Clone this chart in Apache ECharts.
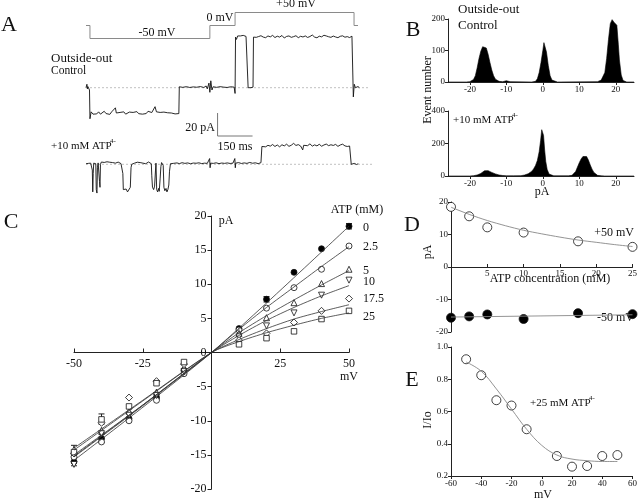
<!DOCTYPE html>
<html><head><meta charset="utf-8">
<script src="https://cdn.jsdelivr.net/npm/echarts@6/dist/echarts.min.js"></script>
<style>html,body{margin:0;padding:0;background:#fff}#c{width:640px;height:502px}</style>
</head><body><div id="c"></div>
<script>
// ---------- Panel A : voltage protocol (ms, mV) ----------
const protoT  = [0, 17, 17, 531, 531, 639, 639, 1149, 1149, 1166];
const protoMV = [0, 0, -50, -50, 0, 0, 50, 50, 0, 0];
// ---------- Panel A : control trace [ms, pA] ----------
const ctrlTrace = [[0,0],[4,3],[6,-1],[8,1],[12,0],[15,-2],[17,-27],[22,-21],[30,-23],[38,-21.5],[46,-22.8],[54,-21],[62,-23],[70,-22],[78,-20.5],[86,-22.5],[94,-21.8],[102,-23.2],[110,-21],[118,-22],[126,-17.5],[130,-22],[138,-23],[146,-21.5],[154,-22.4],[162,-21],[170,-23],[178,-22],[186,-21.2],[194,-22.8],[202,-21.5],[210,-22.3],[218,-20.8],[226,-22.6],[234,-21.4],[242,-23],[250,-21.8],[258,-22.5],[266,-20.5],[274,-22.2],[282,-21.6],[290,-22.8],[296,-16.5],[302,-21],[310,-22],[318,-21.5],[326,-23],[334,-21.2],[342,-22.6],[350,-21.8],[358,-23],[366,-22],[374,-21.5],[382,-22.8],[390,-22],[398,-22.5],[400,0.8],[415,0.3],[430,0.9],[445,0.2],[460,0.7],[475,0.4],[490,1.0],[505,0.2],[515,1.5],[520,-1],[527,4],[531,-4],[535,6],[540,-2],[545,0.8],[560,0.3],[575,0.9],[590,0.5],[605,0.2],[620,0.8],[635,0.5],[639,-5],[641,44],[645,42],[650,45],[656,43.5],[662,45],[668,44],[674,45.5],[680,43.8],[686,44.6],[692,44],[695,0],[700,-1],[707,0],[716,0.5],[718,44],[722,45],[730,43.8],[740,44.5],[750,45.2],[760,44],[770,43.5],[780,45],[790,44.2],[800,45.5],[810,43.6],[820,44.8],[830,44],[840,45.4],[850,43.2],[860,44.6],[870,45],[880,43.8],[890,44.4],[900,45.2],[910,43.5],[920,44.7],[930,44.1],[940,45],[950,43.7],[960,44.5],[970,45.8],[980,44],[990,43.4],[1000,44.8],[1010,44.2],[1020,45.6],[1030,45],[1040,44.3],[1050,43.8],[1060,44.9],[1070,44.1],[1080,43.5],[1090,44.7],[1100,45.1],[1110,43.9],[1120,44.4],[1130,43.6],[1140,44.8],[1144,44],[1146,-8],[1150,3],[1155,0],[1160,-1.5],[1166,1],[1172,0]];
// ---------- Panel A : +10 mM ATP trace [ms, pA] ----------
const atpTrace = [[0,0.5],[5,1.5],[10,0.8],[15,2],[20,1],[25,1.5],[27,-5],[29,-24],[31,-8],[33,1],[38,1.8],[42,0.5],[44,-22],[47,-25],[49,-3],[52,1.2],[56,0.8],[58,-15],[60,-20],[62,0],[66,2],[72,1],[78,1.6],[84,0.6],[90,2.2],[96,1],[102,1.8],[108,0.4],[114,1.5],[120,2.5],[126,1],[132,0.8],[138,1.9],[144,1.2],[150,0.6],[155,1.5],[158,-8],[160,-22],[166,-23],[172,-21.5],[178,-24],[184,-22.5],[190,-20],[193,-3],[196,0],[202,-1],[208,1],[214,0.5],[220,1.8],[226,0.9],[232,1.5],[238,2.2],[244,1],[250,1.6],[256,0.5],[262,1.4],[268,2],[274,1],[280,0.5],[282,-10],[285,-20],[290,-22],[294,-19],[298,-5],[300,1],[303,-22],[307,-24],[311,-21],[314,-23.5],[318,-12],[321,-2],[324,1.5],[328,2],[331,-1],[334,-20],[338,-23],[343,-21],[347,-24],[351,-22],[355,-18],[358,-6],[362,0.5],[368,1.2],[374,0.8],[380,1.5],[390,1.2],[400,0.6],[412,1.4],[424,0.8],[436,1.2],[448,0.5],[460,1.1],[472,0.9],[484,1.3],[496,0.6],[508,1.0],[520,0.8],[528,1.2],[530,5],[532,-3],[534,1],[546,0.8],[558,1.3],[570,0.6],[582,1.1],[594,0.8],[606,1.2],[618,0.7],[630,1.0],[637,1],[638,5],[640,-3],[642,1],[654,1.5],[666,0.7],[678,1.2],[690,0.8],[702,1.6],[714,0.9],[726,1.3],[738,0.6],[750,1.4],[753,1],[754,15.5],[760,17],[770,15.2],[780,16.5],[790,15.8],[800,17.2],[810,15.5],[820,16.8],[830,15.2],[840,17],[850,16],[860,17.5],[870,15.6],[880,16.6],[890,18.2],[900,16.4],[910,17.1],[920,15.9],[925,16],[929,12.5],[933,16.5],[940,17.5],[950,16.2],[960,17.8],[970,15.8],[980,16.9],[990,16],[1000,17.4],[1010,15.7],[1020,16.8],[1030,17.6],[1040,16.2],[1050,17],[1060,16.4],[1070,17.3],[1080,15.6],[1090,16.8],[1100,17.5],[1110,16],[1120,15.5],[1130,15.9],[1136,15],[1137,0],[1140,-0.5],[1150,0.8],[1160,-0.2],[1167,0.5]];
const scaleBar = [[564,44.6],[564,24.6],[714,24.6]]; // 20 pA, 150 ms

// ---------- Panel B : amplitude histograms [pA, events] ----------
const histCtrl = [[-26,0],[-21,0],[-20,1],[-19.5,3],[-19,8],[-18.5,20],[-18,45],[-17.5,75],[-17,98],[-16.5,112],[-16,118],[-15.5,108],[-15,88],[-14.5,62],[-14,38],[-13.5,20],[-13,9],[-12.5,4],[-12,2],[-11,1],[-10.5,3],[-10,4],[-9.5,2],[-9,1],[-3,0],[-2,2],[-1.5,10],[-1,30],[-0.5,62],[0,100],[0.3,125],[0.6,128],[1,95],[1.5,52],[2,20],[2.5,6],[3,1],[4,0],[15,1],[15.5,3],[16,6],[16.5,12],[17,30],[17.5,75],[18,135],[18.5,185],[19,198],[19.5,190],[20,195],[20.3,180],[20.7,120],[21,70],[21.5,22],[22,5],[22.5,1],[23,0],[25,0]];
const histAtp = [[-26,0],[-20,0],[-19,2],[-18,6],[-17,16],[-16.5,26],[-16,32],[-15.5,36],[-15,33],[-14.5,28],[-14,22],[-13,13],[-12,6],[-11,3],[-10,1],[-8,1],[-6,2],[-5,6],[-4,14],[-3,30],[-2.5,45],[-2,65],[-1.5,95],[-1,150],[-0.6,220],[-0.3,285],[-0.1,295],[0.2,250],[0.5,160],[0.8,90],[1.2,40],[1.7,12],[2.2,4],[3,1],[7,1],[8,4],[8.5,12],[9,28],[9.5,55],[10,82],[10.5,105],[11,120],[11.5,128],[12,120],[12.5,98],[13,68],[13.5,42],[14,22],[14.5,10],[15,4],[16,1],[17,0],[25,0]];

// ---------- Panel C : I-V relations ----------
const ivV = [-50, -40, -30, -20, -10, 10, 20, 30, 40, 50];
const atpLevels = ['0', '2.5', '5', '10', '17.5', '25'];
const iv0   = [-16.0, -12.6, -9.7, -6.6, -2.6, 3.5, 7.8, 11.75, 15.2, 18.5];
const iv2_5 = [-15.3, -13.1, -10.0, -7.0, -3.1, 3.3, 6.5, 9.5, 12.2, 15.6];
const iv5   = [-14.2, -11.4, -8.6, -5.8, -2.3, 2.8, 5.1, 7.3, 10.1, 12.2];
const iv10  = [-16.4, -11.9, -9.2, -6.3, -2.8, 2.3, 3.9, 5.8, 8.4, 10.6];
const iv17_5= [-14.8, -10.3, -6.6, -4.2, -1.7, 1.8, 2.8, 4.4, 6.1, 7.9];
const iv25  = [-14.6, -9.8, -7.9, -4.5, -1.4, 1.2, 2.1, 3.1, 4.9, 6.1];
const fit0   = [[-50,-15.8],[0,0],[50,18.5]];
const fit2_5 = [[-50,-15.3],[-25,-7.8],[0,0],[10,3.4],[20,6.6],[30,9.6],[40,12.6],[50,15.5]];
const fit5   = [[-50,-15],[-25,-7.7],[0,0],[10,2.9],[20,5.4],[30,7.7],[40,9.9],[50,12]];
const fit10  = [[-50,-15.2],[-25,-7.7],[0,0],[10,2.5],[20,4.7],[30,6.6],[40,8.3],[50,9.8]];
const fit17_5= [[-50,-14.3],[-25,-7.1],[0,0],[10,1.9],[20,3.5],[30,4.9],[40,6.0],[50,7.0]];
const fit25  = [[-50,-14],[-25,-7],[0,0],[10,1.6],[20,2.9],[30,4.0],[40,5.0],[50,5.8]];
const errBars = [[50,18.1,18.9],[20,7.4,8.2],[-50,-16.6,-15.4],[-40,-10.5,-9.0],[-40,-13.2,-12.0],[-50,-14.6,-13.6]];

// ---------- Panel D : current vs ATP ----------
const dConc = [0, 2.5, 5, 10, 17.5, 25];
const dPos  = [18.5, 15.6, 12.2, 10.6, 7.9, 6.2];
const dNeg  = [-15.6, -15.2, -14.6, -16.0, -14.2, -14.5];
const dPosFit = [[0,18.4],[2.5,16.2],[5,14.3],[7.5,12.7],[10,11.3],[12.5,10.2],[15,9.2],[17.5,8.3],[20,7.6],[22.5,6.9],[25,6.3]];
const dNegFit = [[0,-15.4],[25,-14.7]];

// ---------- Panel E : relative block ----------
const eV   = [-50, -40, -30, -20, -10, 10, 20, 30, 40, 50];
const eRel = [0.924, 0.825, 0.67, 0.637, 0.49, 0.324, 0.258, 0.262, 0.324, 0.33];
const eFit = [[-50,0.907],[-40,0.85],[-30,0.74],[-20,0.615],[-10,0.49],[0,0.39],[10,0.33],[20,0.305],[30,0.295],[40,0.29],[50,0.29]];

const FF = 'Liberation Serif';
const AX = '#222';
const zip = (a, b) => a.map((v, i) => [v, b[i]]);

const chart = echarts.init(document.getElementById('c'), null, {renderer: 'canvas'});

const tOff = {show: false};
function hidAxis(gi, min, max) {
  return {gridIndex: gi, type: 'value', min, max, show: false, splitLine: tOff};
}
function visAxis(gi, o) {
  return Object.assign({
    gridIndex: gi, type: 'value', splitLine: tOff,
    axisLine: {show: true, onZero: false, lineStyle: {color: AX, width: 1}},
    axisTick: {show: true, length: 3, lineStyle: {color: AX}},
    axisLabel: {fontFamily: FF, fontSize: 9, color: '#111', margin: 3}
  }, o);
}

const grids = [
  {left: 86, top: 9.9, width: 291.6, height: 31.2},   // 0 protocol
  {left: 86, top: 18.7, width: 291.6, height: 115},   // 1 control trace
  {left: 86, top: 106.8, width: 291.6, height: 92},   // 2 ATP trace
  {left: 448, top: 19, width: 186, height: 63},       // 3 hist ctrl
  {left: 448, top: 111, width: 186, height: 65},      // 4 hist ATP
  {left: 74, top: 216, width: 275, height: 273},      // 5 C
  {left: 451, top: 202, width: 183, height: 130},     // 6 D
  {left: 451, top: 347, width: 183, height: 129}      // 7 E
];
// C axes cross at zero: offset from the grid edges to the zero lines
const cOffX = -136.5, cOffY = -137.5, dOffX = -65;

const xAxes = [
  hidAxis(0, 0, 1250), hidAxis(1, 0, 1250), hidAxis(2, 0, 1250),
  visAxis(3, {min: -26, max: 25, axisLabel: {fontFamily: FF, fontSize: 9, color: '#111', margin: 3, customValues: [-20,-10,0,10,20]}, axisTick: {show: true, length: 3, customValues: [-20,-10,0,10,20], lineStyle: {color: AX}}}),
  visAxis(4, {min: -26, max: 25, axisLabel: {fontFamily: FF, fontSize: 9, color: '#111', margin: 3, customValues: [-20,-10,0,10,20]}, axisTick: {show: true, length: 3, customValues: [-20,-10,0,10,20], lineStyle: {color: AX}}}),
  visAxis(5, {min: -50, max: 50, position: 'bottom', offset: cOffX,
    axisTick: {show: true, inside: true, length: 4, customValues: [-50,-25,25,50], lineStyle: {color: AX}},
    axisLabel: {fontFamily: FF, fontSize: 12, color: '#111', margin: 5, customValues: [-50,-25,25,50]}}),
  visAxis(6, {min: 0, max: 25, position: 'bottom', offset: dOffX,
    axisTick: {show: true, inside: true, length: 3, customValues: [5,10,15,20,25], lineStyle: {color: AX}},
    axisLabel: {fontFamily: FF, fontSize: 9, color: '#111', margin: 2, customValues: [5,10,15,20,25]}}),
  visAxis(7, {min: -60, max: 60, interval: 20})
];
const yAxes = [
  hidAxis(0, -60, 60), hidAxis(1, -40, 60), hidAxis(2, -30, 50),
  visAxis(3, {min: 0, max: 200, interval: 100}),
  visAxis(4, {min: 0, max: 400, interval: 200}),
  visAxis(5, {min: -20, max: 20, interval: 5, position: 'left', offset: cOffY,
    axisTick: {show: true, length: 4, lineStyle: {color: AX}},
    axisLabel: {fontFamily: FF, fontSize: 12, color: '#111', margin: 5}}),
  visAxis(6, {min: -20, max: 20, interval: 10}),
  visAxis(7, {min: 0.2, max: 1.0, interval: 0.2, axisLabel: {fontFamily: FF, fontSize: 9, color: '#111', margin: 3, formatter: v => v.toFixed(1)}})
];

const series = [];
function line(gi, data, color, width, extra) {
  series.push(Object.assign({type: 'line', xAxisIndex: gi, yAxisIndex: gi, data, symbol: 'none',
    lineStyle: {color, width}, silent: true, animation: false}, extra || {}));
}
function scat(gi, data, symbol, filled, size, rot) {
  series.push({type: 'scatter', xAxisIndex: gi, yAxisIndex: gi, data, symbol, symbolSize: size,
    symbolRotate: rot || 0, animation: false,
    itemStyle: {color: filled ? '#000' : '#fff', borderColor: '#111', borderWidth: 0.8, opacity: 1}});
}

// A
line(0, zip(protoT, protoMV), '#8a8a8a', 1);
line(1, [[0,0],[1217,0]], '#b0b0b0', 0.8, {lineStyle: {color: '#b0b0b0', width: 0.8, type: [2,2]}});
line(1, ctrlTrace, '#111', 0.9);
line(2, [[0,0],[1226,0]], '#b0b0b0', 0.8, {lineStyle: {color: '#b0b0b0', width: 0.8, type: [2,2]}});
line(2, atpTrace, '#111', 0.9);
line(2, scaleBar, '#777', 1);
// B
line(3, histCtrl, '#000', 0.6, {areaStyle: {color: '#000', opacity: 1}});
line(4, histAtp, '#000', 0.6, {areaStyle: {color: '#000', opacity: 1}});
// C
const ivSets = [iv0, iv2_5, iv5, iv10, iv17_5, iv25];
const fitSets = [fit0, fit2_5, fit5, fit10, fit17_5, fit25];
const syms = [['circle',true,6,0],['circle',false,6,0],['triangle',false,6,0],['triangle',false,6,180],['diamond',false,7,0],['rect',false,5.5,0]];
fitSets.forEach(f => line(5, f, '#333', 0.8, {smooth: 0.25}));
series.push({type: 'custom', xAxisIndex: 5, yAxisIndex: 5, data: errBars, animation: false,
  renderItem: (p, api) => {
    const a = api.coord([api.value(0), api.value(1)]);
    const b = api.coord([api.value(0), api.value(2)]);
    const st = {stroke: '#222', lineWidth: 1};
    return {type: 'group', children: [
      {type: 'line', shape: {x1: a[0], y1: a[1], x2: b[0], y2: b[1]}, style: st},
      {type: 'line', shape: {x1: a[0]-3, y1: a[1], x2: a[0]+3, y2: a[1]}, style: st},
      {type: 'line', shape: {x1: b[0]-3, y1: b[1], x2: b[0]+3, y2: b[1]}, style: st}]};
  }});
ivSets.forEach((s, i) => scat(5, zip(ivV, s), syms[i][0], syms[i][1], syms[i][2], syms[i][3]));
// D
line(6, dPosFit, '#888', 0.9, {smooth: 0.3});
line(6, dNegFit, '#888', 0.9);
scat(6, zip(dConc, dPos), 'circle', false, 9);
scat(6, zip(dConc, dNeg), 'circle', true, 9);
// E
line(7, eFit, '#888', 0.9, {smooth: 0.4});
scat(7, zip(eV, eRel), 'circle', false, 9);

function txt(x, y, text, size, align, extra) {
  return Object.assign({type: 'text', x, y, silent: true,
    style: {text, fontFamily: FF, fontSize: size, fill: '#111', align: align || 'left', verticalAlign: 'middle'}}, extra || {});
}
const graphics = [
  txt(9, 25, 'A', 22, 'center'), txt(413, 30, 'B', 22, 'center'), txt(11, 222, 'C', 22, 'center'),
  txt(412, 225, 'D', 22, 'center'), txt(412, 380, 'E', 22, 'center'),
  // A
  txt(157, 33, '-50 mV', 12, 'center'), txt(220, 18, '0 mV', 12, 'center'), txt(296, 4, '+50 mV', 12, 'center'),
  txt(51, 59, 'Outside-out', 13), txt(51, 71, 'Control', 11.5),
  txt(51, 146, '+10 mM ATP', 11), txt(110, 141, '4-', 7),
  txt(215, 128, '20 pA', 12, 'right'), txt(235, 147, '150 ms', 12, 'center'),
  // B
  txt(458, 10, 'Outside-out', 13), txt(458, 26, 'Control', 13),
  txt(453, 120, '+10 mM ATP', 11), txt(512, 115, '4-', 7),
  txt(542, 192, 'pA', 12, 'center'),
  txt(428, 90, 'Event number', 12, 'center', {rotation: Math.PI / 2}),
  // C
  txt(226, 221, 'pA', 12, 'center'), txt(357, 210, 'ATP (mM)', 12, 'center'), txt(349, 377, 'mV', 12, 'center'),
  // D
  txt(428, 252, 'pA', 12, 'center', {rotation: Math.PI / 2}),
  txt(550, 279, 'ATP concentration (mM)', 12, 'center'),
  txt(634, 233, '+50 mV', 12, 'right'), txt(634, 318, '-50 mV', 12, 'right'),
  // E
  txt(530, 403, '+25 mM ATP', 11), txt(589, 398, '4-', 7),
  txt(428, 420, 'I/Io', 12, 'center', {rotation: Math.PI / 2}),
  txt(543, 495, 'mV', 12, 'center')
];
atpLevels.forEach((lv, i) => graphics.push(txt(363, [228, 247, 271, 282, 299, 317][i], lv, 12)));

chart.setOption({animation: false, backgroundColor: '#fff', grid: grids, xAxis: xAxes, yAxis: yAxes, series, graphic: graphics});
</script></body></html>
